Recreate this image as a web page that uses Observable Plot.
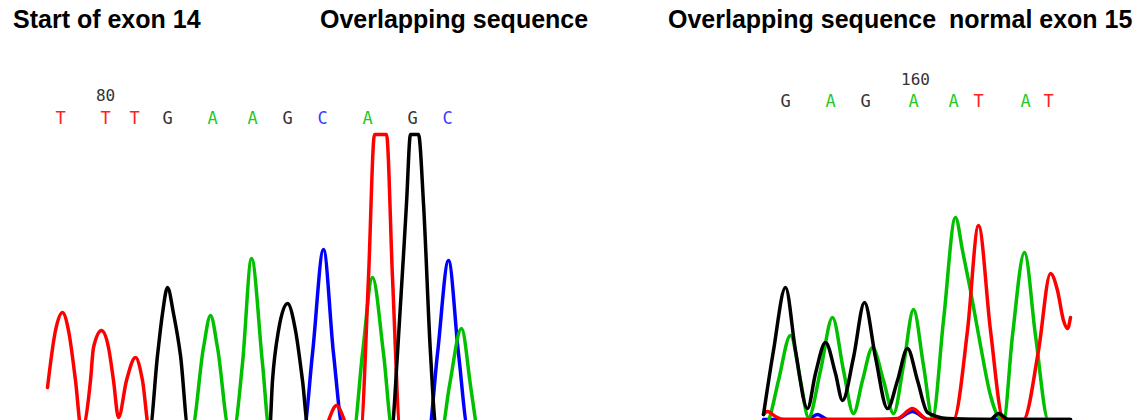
<!DOCTYPE html>
<html><head><meta charset="utf-8">
<script src="https://cdn.jsdelivr.net/npm/d3@7"></script>
<script src="https://cdn.jsdelivr.net/npm/@observablehq/plot@0.6"></script>
<style>
body{margin:0;background:#fff;}
#wrap{position:relative;width:1137px;height:420px;overflow:hidden;background:#fff;}
.hdr{position:absolute;top:0;left:0;width:1137px;height:40px;font:bold 25px "Liberation Sans",Arial,sans-serif;color:#000;}
.hdr span{position:absolute;top:7px;line-height:25px;white-space:pre;}
#plots{position:absolute;top:40px;left:0;display:flex;}
#plots svg{overflow:hidden;}
</style></head>
<body>
<div id="wrap">
  <div class="hdr">
    <span style="left:13px">Start of exon 14</span>
    <span style="left:320px">Overlapping sequence</span>
    <span style="left:668px">Overlapping sequence</span>
    <span style="left:949px">normal exon 15</span>
  </div>
  <div id="plots"></div>
</div>
<script>
// ---- Left panel (around base 80): traces as [scan, intensity] ----
const leftRed = [[0,430],[8,1000],[15,1180],[21,1000],[28,500],[34,0],[43,500],[46,830],[54,1000],[61,830],[66,500],[71,130],[79,500],[88,730],[95,500],[102,0],[275,0],[289,250],[303,0],[313,0],[321,1530],[327,2960],[339,2960],[345,1530],[353,0],[428,0]];
const leftBlack = [[0,0],[102,0],[110,750],[115,1170],[120,1430],[126,1170],[133,750],[141,0],[222,0],[225,500],[231,1000],[240,1270],[248,1000],[255,500],[261,0],[344,0],[350,770],[359,2270],[363,2960],[371,2960],[376,2270],[383,770],[389,0],[428,0]];
const leftGreen = [[0,0],[144,0],[156,830],[163,1150],[170,830],[182,0],[186,0],[195,670],[204,1720],[215,670],[222,0],[306,0],[315,770],[325,1530],[336,770],[345,0],[394,0],[402,450],[414,1020],[423,450],[428,100]];
const leftBlue = [[0,0],[256,0],[265,770],[276,1810],[286,770],[296,0],[381,0],[390,770],[401,1700],[411,770],[421,0],[428,0]];
const leftCalls = ["T","T","T","G","A","A","G","C","A","G","C"];
const leftCallScans = [13,58,87,120,165,205,240,275,320,365,400];
const leftPosLabel = ["80"];
const leftPosScan = [58];

// ---- Right panel (around base 160) ----
const rightRed = [[0,160],[4,190],[12,140],[20,110],[109,110],[134,120],[149,220],[164,110],[190,110],[204,1000],[215,2050],[227,1000],[240,110],[260,110],[275,800],[287,1570],[294,1400],[300,1100],[304,1020],[307,1130]];
const rightBlack = [[0,160],[10,800],[22,1430],[32,800],[44,220],[52,570],[62,880],[72,570],[79,300],[90,730],[101,1280],[112,730],[124,220],[134,500],[144,820],[154,500],[164,180],[184,120],[227,110],[235,170],[245,110],[307,110]];
const rightGreen = [[0,50],[5,100],[15,500],[27,950],[37,500],[45,130],[57,600],[69,1130],[80,600],[90,170],[99,500],[109,830],[120,500],[130,170],[140,650],[150,1210],[160,650],[169,130],[180,1100],[192,2130],[199,1800],[207,1400],[217,850],[227,350],[234,150],[240,100],[249,950],[261,1780],[272,950],[285,100],[307,100]];
const rightBlue = [[0,110],[44,110],[54,160],[64,110],[132,110],[149,190],[165,110],[307,110]];
const rightCalls = ["G","A","G","A","A","T","A","T"];
const rightCallScans = [22,67,102,150,190,215,262,285];
const rightPosLabel = ["160"];
const rightPosScan = [152];

const traceColor = {A: "#00c000", C: "#0000ff", G: "#000000", T: "#ff0000"};
const callColor = {A: "#1ec81e", C: "#3c3cff", G: "#333333", T: "#ff2020"};

function rows(arr) { return arr.map(([scan, rfu]) => ({scan, rfu})); }

function panel({width, xRange, scanMax, traces, calls, callScans, pos, posScan, callDy, posDy}) {
  const callRows = calls.map((b, i) => ({scan: callScans[i], base: b, color: callColor[b]}));
  const posRows = pos.map((p, i) => ({scan: posScan[i], label: p}));
  const lineMarks = traces.map(([data, base]) =>
    Plot.line(rows(data), {x: "scan", y: "rfu", stroke: traceColor[base], strokeWidth: 3.5,
      curve: "monotone-x", strokeLinejoin: "round", strokeLinecap: "round"}));
  return Plot.plot({
    width, height: 380, margin: 0,
    x: {domain: [0, scanMax], range: xRange, axis: null},
    y: {domain: [0, 3900], range: [390, 0], axis: null},
    color: {type: "identity"},
    style: {background: "transparent", fontFamily: "DejaVu Sans Mono", overflow: "hidden"},
    marks: [
      ...lineMarks,
      Plot.text(callRows, {x: "scan", text: "base", fill: "color", frameAnchor: "top", lineAnchor: "middle", dy: callDy, fontSize: 17}),
      Plot.text(posRows, {x: "scan", text: "label", fill: "#333", frameAnchor: "top", lineAnchor: "middle", dy: posDy, fontSize: 16})
    ]
  });
}

const left = panel({width: 600, xRange: [47, 475], scanMax: 428,
  traces: [[leftBlue, "C"], [leftGreen, "A"], [leftRed, "T"], [leftBlack, "G"]],
  calls: leftCalls, callScans: leftCallScans, pos: leftPosLabel, posScan: leftPosScan, callDy: 78, posDy: 55});
const right = panel({width: 537, xRange: [163, 470], scanMax: 307,
  traces: [[rightBlue, "C"], [rightGreen, "A"], [rightRed, "T"], [rightBlack, "G"]],
  calls: rightCalls, callScans: rightCallScans, pos: rightPosLabel, posScan: rightPosScan, callDy: 61, posDy: 39});
document.getElementById("plots").append(left, right);
</script>
</body></html>
